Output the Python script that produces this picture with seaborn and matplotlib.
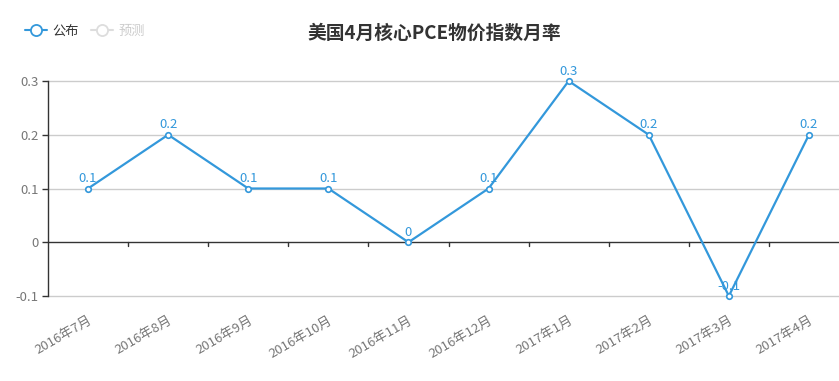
import matplotlib
matplotlib.use("Agg")
import matplotlib.pyplot as plt
from matplotlib.lines import Line2D
import seaborn as sns
import pandas as pd

months = ["2016年7月", "2016年8月", "2016年9月", "2016年10月", "2016年11月",
          "2016年12月", "2017年1月", "2017年2月", "2017年3月", "2017年4月"]
published = [0.1, 0.2, 0.1, 0.1, 0.0, 0.1, 0.3, 0.2, -0.1, 0.2]
yticks = [-0.1, 0, 0.1, 0.2, 0.3]
ytick_labels = ["-0.1", "0", "0.1", "0.2", "0.3"]

sns.set_theme(style="white")
plt.rcParams['font.family'] = ['Noto Sans CJK SC', 'DejaVu Sans']

W, H = 839, 381
fig = plt.figure(figsize=(W / 100, H / 100), dpi=100)
ax = fig.add_axes([48 / W, 1 - 296 / H, 801 / W, 215 / H])

df = pd.DataFrame({"x": range(len(months)), "v": published})
blue = "#3398DB"
sns.lineplot(data=df, x="x", y="v", ax=ax, color=blue, lw=1.6, marker="o",
             markersize=4, markerfacecolor="white", markeredgecolor=blue,
             markeredgewidth=1.2, zorder=5, clip_on=False)

for i, v in enumerate(published):
    lab = "0" if v == 0 else f"{v:g}"
    ax.annotate(lab, (i, v), xytext=(0, 2.5), textcoords="offset points",
                ha="center", va="bottom", color=blue, fontsize=9.5, zorder=6)

ax.set_xlim(-0.5, len(months) - 0.5)
ax.set_ylim(-0.1, 0.3)
ax.set_yticks(yticks)
ax.set_yticklabels(ytick_labels, color="#777777", fontsize=9.5)
for y in yticks:
    if y != 0:
        ax.axhline(y, color="#cccccc", lw=1, zorder=1, clip_on=False)
ax.axhline(0, color="#333333", lw=1, zorder=2)
# category boundary ticks on zero line
for b in range(1, len(months)):
    ax.plot([b - 0.5, b - 0.5], [0, -0.0075], color="#333333", lw=1, zorder=2,
            clip_on=False)

ax.set_xticks(range(len(months)))
ax.set_xticklabels(months, rotation=30, ha="right", rotation_mode="anchor",
                   color="#777777", fontsize=9.5)
ax.tick_params(axis="x", length=0, pad=13)
ax.tick_params(axis="y", length=4, width=1, color="#333333", direction="out",
               left=True, pad=3)
for s in ["top", "right", "bottom"]:
    ax.spines[s].set_visible(False)
ax.spines["left"].set_color("#333333")
ax.spines["left"].set_linewidth(1)
ax.set_xlabel("")
ax.set_ylabel("")

fig.text(434 / W, 1 - 33 / H, "美国4月核心PCE物价指数月率", ha="center", va="center",
         fontsize=13.5, fontweight="bold", color="#333333")

h1 = Line2D([], [], color=blue, lw=1.5, marker="o", markersize=8,
            markerfacecolor="white", markeredgecolor=blue, markeredgewidth=1.3)
h2 = Line2D([], [], color="#dddddd", lw=1.5, marker="o", markersize=8,
            markerfacecolor="white", markeredgecolor="#dddddd", markeredgewidth=1.3)
leg = fig.legend([h1, h2], ["公布", "预测"], loc="center left",
                 bbox_to_anchor=(18 / W, 1 - 31 / H), ncol=2, frameon=False,
                 fontsize=9.5, handlelength=1.7, handletextpad=0.4,
                 columnspacing=0.9, borderpad=0)
texts = leg.get_texts()
texts[0].set_color("#333333")
texts[1].set_color("#cccccc")

fig.savefig("out.png", dpi=100)
